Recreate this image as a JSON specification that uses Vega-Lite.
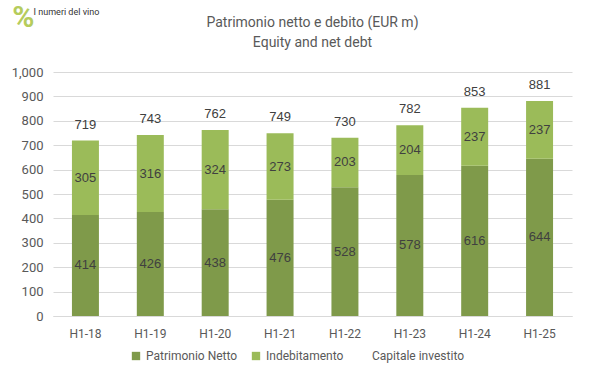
{"$schema":"https://vega.github.io/schema/vega-lite/v6.json","width":519,"height":244,"autosize":{"type":"none"},"padding":{"left":53,"top":72,"right":27,"bottom":61},"background":"white","title":{"text":["Patrimonio netto e debito (EUR m)","Equity and net debt"],"fontSize":14,"fontWeight":"normal","font":"Roboto","color":"#595959","lineHeight":20,"anchor":"middle","offset":-47},"config":{"view":{"stroke":null},"font":"Roboto","axisY":{"tickCount":10,"format":",d","labelFontSize":13,"labelColor":"#595959","gridColor":"#d9d9d9","ticks":false,"domain":false,"labelPadding":10,"labelOverlap":false,"title":null}},"data":{"values":[{"p":"H1-18","s":"Patrimonio Netto","v":414},{"p":"H1-18","s":"Indebitamento","v":305},{"p":"H1-19","s":"Patrimonio Netto","v":426},{"p":"H1-19","s":"Indebitamento","v":316},{"p":"H1-20","s":"Patrimonio Netto","v":438},{"p":"H1-20","s":"Indebitamento","v":324},{"p":"H1-21","s":"Patrimonio Netto","v":476},{"p":"H1-21","s":"Indebitamento","v":273},{"p":"H1-22","s":"Patrimonio Netto","v":528},{"p":"H1-22","s":"Indebitamento","v":203},{"p":"H1-23","s":"Patrimonio Netto","v":578},{"p":"H1-23","s":"Indebitamento","v":204},{"p":"H1-24","s":"Patrimonio Netto","v":616},{"p":"H1-24","s":"Indebitamento","v":237},{"p":"H1-25","s":"Patrimonio Netto","v":644},{"p":"H1-25","s":"Indebitamento","v":237},{"p":"H1-18","s":"Capitale investito","v":719},{"p":"H1-19","s":"Capitale investito","v":743},{"p":"H1-20","s":"Capitale investito","v":762},{"p":"H1-21","s":"Capitale investito","v":749},{"p":"H1-22","s":"Capitale investito","v":730},{"p":"H1-23","s":"Capitale investito","v":782},{"p":"H1-24","s":"Capitale investito","v":853},{"p":"H1-25","s":"Capitale investito","v":881}]},"encoding":{"x":{"field":"p","type":"nominal","title":null,"scale":{"paddingInner":0.584,"paddingOuter":0.292},"axis":{"labelAngle":0,"labelFontSize":12,"labelColor":"#595959","ticks":false,"domainColor":"#d9d9d9","labelPadding":12}}},"layer":[{"transform":[{"filter":"datum.s !== 'Capitale investito'"}],"mark":{"type":"bar"},"encoding":{"y":{"field":"v","type":"quantitative","stack":"zero","title":null,"scale":{"domain":[0,1000],"nice":false}},"color":{"field":"s","type":"nominal","scale":{"domain":["Patrimonio Netto","Indebitamento","Capitale investito"],"range":["#7f9a4a","#9bbb59","transparent"]},"legend":{"title":null,"orient":"none","legendX":77,"legendY":278,"direction":"horizontal","symbolType":"square","symbolSize":70,"symbolStrokeWidth":0,"labelFontSize":12,"labelColor":"#595959","columnPadding":12}},"order":{"field":"so","type":"quantitative"}}},{"transform":[{"filter":"datum.s !== 'Capitale investito'"},{"stack":"v","groupby":["p"],"sort":[{"field":"s","order":"descending"}],"as":["a","b"]},{"calculate":"(datum.a+datum.b)/2","as":"m"}],"mark":{"type":"text","fontSize":13,"color":"#404040","font":"Liberation Sans"},"encoding":{"y":{"field":"m","type":"quantitative","title":null},"text":{"field":"v","type":"quantitative"}}},{"transform":[{"filter":"datum.s === 'Capitale investito'"}],"mark":{"type":"text","fontSize":13,"color":"#404040","baseline":"bottom","dy":-9,"font":"Liberation Sans"},"encoding":{"y":{"field":"v","type":"quantitative","title":null},"text":{"field":"v","type":"quantitative"}}},{"data":{"values":[{"t":"I numeri del vino"}]},"mark":{"type":"text","fontSize":9,"color":"#333333","dx":-19},"encoding":{"x":{"datum":"H1-18"},"y":{"datum":1245,"title":null},"text":{"field":"t"}}},{"data":{"values":[{"t":"%"}]},"mark":{"type":"text","fontSize":30,"fontWeight":"bold","color":"#b5cc5c","dx":-62},"encoding":{"x":{"datum":"H1-18"},"y":{"datum":1220,"title":null},"text":{"field":"t"}}}]}
